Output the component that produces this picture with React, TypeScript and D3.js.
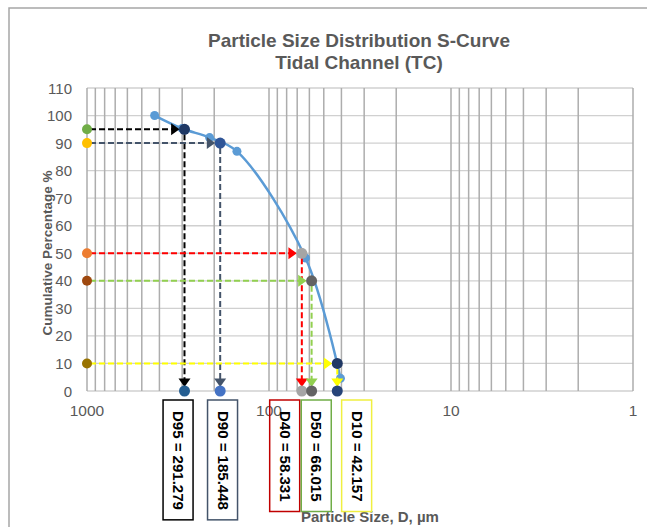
import { useEffect, useRef } from 'react';
import * as d3 from 'd3';

// sieve sizes (µm) and cumulative passing (%)
const sizes = [425, 300, 212, 150, 63, 40.5];
const cumulative = [100, 95.3, 92, 87, 48.3, 4.6];

// D-value annotations
const percentiles = [95, 90, 50, 40, 10];
const dValues = [291.279, 185.448, 66.015, 58.331, 42.157];
const boxLabels = ["D95 = 291.279", "D90 = 185.448", "D40 = 58.331", "D50 = 66.015", "D10 = 42.157"];
const boxAt = [316, 180, 82, 55, 33];

const arrowColors = ["#000000", "#44546a", "#ff0000", "#92d050", "#ffff00"];
const axisDotColors = ["#70ad47", "#ffc000", "#ed7d31", "#9e480e", "#997300"];
const curveDotColors = ["#1f3864", "#2f5597", "#a5a5a5", "#636363", "#203864"];
const baseDotColors = ["#255e91", "#4472c4", "#a5a5a5", "#636363", "#264478"];
const boxColors = ["#000000", "#44546a", "#c00000", "#70ad47", "#f0f040"];

const xTickLabels = [1000, 100, 10, 1];
const yTicks = d3.range(0, 111, 10);

const App = () => {
  const ref = useRef<SVGSVGElement>(null);

  const drawChart = () => {
    const width = 647;
    const height = 527;
    const svg = d3.select(ref.current);
    svg.selectAll("*").remove();
    svg.attr("width", width).attr("height", height);

    const font = "'Liberation Sans', Arial, sans-serif";
    const grey = "#595959";

    svg.append("rect")
      .attr("x", 9).attr("y", 8)
      .attr("width", 700).attr("height", 600)
      .attr("fill", "#fff")
      .attr("stroke", "#a6a6a6")
      .attr("stroke-width", 1.5);

    const x = d3.scaleLog().domain([1000, 1]).range([87, 633]);
    const y = d3.scaleLinear().domain([0, 110]).range([391, 88]);

    // grid
    svg.append("g").selectAll("line")
      .data(yTicks)
      .join("line")
      .attr("x1", 87).attr("x2", 633)
      .attr("y1", d => y(d)).attr("y2", d => y(d))
      .attr("stroke", "#d0d0d0")
      .attr("stroke-width", 1.3);

    svg.append("g").selectAll("line")
      .data(x.ticks())
      .join("line")
      .attr("x1", d => x(d)).attr("x2", d => x(d))
      .attr("y1", y(110)).attr("y2", y(0))
      .attr("stroke", "#adadad")
      .attr("stroke-width", 1.5);

    // tick labels
    svg.append("g").selectAll("text")
      .data(yTicks)
      .join("text")
      .attr("x", 72).attr("y", d => y(d) + 5.5)
      .attr("text-anchor", "end")
      .attr("font-family", font).attr("font-size", 15)
      .attr("fill", grey)
      .text(d => d);

    svg.append("g").selectAll("text")
      .data(xTickLabels)
      .join("text")
      .attr("x", d => x(d)).attr("y", 416)
      .attr("text-anchor", "middle")
      .attr("font-family", font).attr("font-size", 15.5)
      .attr("fill", grey)
      .text(d => d);

    // titles
    const title = svg.append("text")
      .attr("text-anchor", "middle")
      .attr("font-family", font).attr("font-size", 19)
      .attr("font-weight", "bold")
      .attr("fill", grey);
    title.append("tspan").attr("x", 359).attr("y", 47).text("Particle Size Distribution S-Curve");
    title.append("tspan").attr("x", 359).attr("y", 69).text("Tidal Channel (TC)");

    svg.append("text")
      .attr("transform", "translate(52,253) rotate(-90)")
      .attr("text-anchor", "middle")
      .attr("font-family", font).attr("font-size", 13.5)
      .attr("font-weight", "bold")
      .attr("fill", grey)
      .text("Cumulative Percentage %");

    svg.append("text")
      .attr("x", 301).attr("y", 522)
      .attr("font-family", font).attr("font-size", 15)
      .attr("font-weight", "bold")
      .attr("fill", grey)
      .text("Particle Size, D, µm");

    // curve
    const pts = sizes.map((s, i) => [s, cumulative[i]] as [number, number]);
    const line = d3.line<[number, number]>()
      .x(d => x(d[0]))
      .y(d => y(d[1]))
      .curve(d3.curveCatmullRom);

    svg.append("path")
      .datum(pts)
      .attr("fill", "none")
      .attr("stroke", "#5b9bd5")
      .attr("stroke-width", 2.5)
      .attr("d", line);

    svg.append("g").selectAll("circle")
      .data(pts)
      .join("circle")
      .attr("cx", d => x(d[0])).attr("cy", d => y(d[1]))
      .attr("r", 4.5)
      .attr("fill", "#5b9bd5");

    // arrows
    const arrowHead = (px: number, py: number, dir: string, color: string) => {
      const s = 6;
      const p = dir === "right"
        ? `M${px},${py}L${px - s * 1.4},${py - s}L${px - s * 1.4},${py + s}Z`
        : `M${px},${py}L${px - s},${py - s * 1.4}L${px + s},${py - s * 1.4}Z`;
      svg.append("path").attr("d", p).attr("fill", color);
    };

    percentiles.forEach((p, i) => {
      const cx = x(dValues[i]);
      const cy = y(p);
      const c = arrowColors[i];
      svg.append("line")
        .attr("x1", 90).attr("x2", cx - 10)
        .attr("y1", cy).attr("y2", cy)
        .attr("stroke", c).attr("stroke-width", 2)
        .attr("stroke-dasharray", "6,3");
      arrowHead(cx - 5, cy, "right", c);
      svg.append("line")
        .attr("x1", cx).attr("x2", cx)
        .attr("y1", cy + 5).attr("y2", y(0) - 10)
        .attr("stroke", c).attr("stroke-width", 2)
        .attr("stroke-dasharray", "6,3");
      arrowHead(cx, y(0) - 4, "down", c);
    });

    percentiles.forEach((p, i) => {
      const cx = x(dValues[i]);
      svg.append("circle").attr("cx", x(1000)).attr("cy", y(p)).attr("r", 5).attr("fill", axisDotColors[i]);
      svg.append("circle").attr("cx", cx).attr("cy", y(p)).attr("r", 5.5).attr("fill", curveDotColors[i]);
      svg.append("circle").attr("cx", cx).attr("cy", y(0)).attr("r", 5.5).attr("fill", baseDotColors[i]);
    });

    // D-value boxes
    boxLabels.forEach((label, i) => {
      const bx = x(boxAt[i]);
      const g = svg.append("g");
      const t = g.append("text")
        .attr("transform", `translate(${bx - 5},411) rotate(90)`)
        .attr("font-family", font).attr("font-size", 15)
        .attr("font-weight", "bold")
        .attr("fill", "#000")
        .text(label);
      const len = (t.node() as SVGTextElement).getComputedTextLength();
      g.insert("rect", "text")
        .attr("x", bx - 15).attr("y", 400)
        .attr("width", 30).attr("height", len + 21)
        .attr("fill", "none")
        .attr("stroke", boxColors[i])
        .attr("stroke-width", 1.5);
    });
  };

  useEffect(() => {
    drawChart();
  }, []);

  return <svg ref={ref} style={{ position: "absolute", left: 0, top: 0 }} />;
};

export default App;
